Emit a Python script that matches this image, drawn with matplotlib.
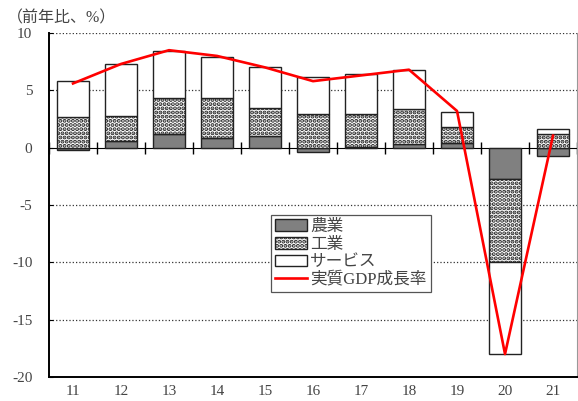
import numpy as np
import matplotlib.pyplot as plt
from matplotlib.patches import Patch
from matplotlib.lines import Line2D

plt.rcParams["font.family"] = ["Liberation Serif", "Noto Sans CJK JP"]
plt.rcParams["hatch.linewidth"] = 2.0

years = ["11", "12", "13", "14", "15", "16", "17", "18", "19", "20", "21"]
agri = [-0.2, 0.6, 1.2, 0.85, 1.05, -0.35, 0.05, 0.35, 0.4, -2.7, -0.7]
industry = [2.7, 2.2, 3.15, 3.5, 2.45, 2.95, 2.9, 3.05, 1.4, -7.3, 1.2]
services = [3.15, 4.5, 4.1, 3.6, 3.5, 3.25, 3.45, 3.4, 1.35, -8.0, 0.4]
gdp = [5.6, 7.3, 8.5, 8.0, 7.0, 5.8, 6.3, 6.8, 3.2, -18.0, 1.05]

text_color = "#444444"

fig = plt.figure(figsize=(5.78, 4.01), dpi=100)
ax = fig.add_axes([0.0848, 0.0599, 0.9135, 0.8578])

x = np.arange(len(years))
width = 0.67
pos_bottom = np.zeros(len(years))
neg_bottom = np.zeros(len(years))

styles = [
    (agri, dict(color="#808080", edgecolor="#222222")),
    (industry, dict(color="white", edgecolor="#222222", hatch="....")),
    (services, dict(color="white", edgecolor="#222222")),
]
for vals, kw in styles:
    vals = np.array(vals)
    bottoms = np.where(vals >= 0, pos_bottom, neg_bottom)
    ax.bar(x, vals, width, bottom=bottoms, linewidth=1.0, zorder=2, **kw)
    pos_bottom = pos_bottom + np.where(vals >= 0, vals, 0)
    neg_bottom = neg_bottom + np.where(vals < 0, vals, 0)

ax.plot(x, gdp, color="#ff0000", linewidth=1.9, zorder=3)

ax.set_xlim(-0.5, len(years) - 0.5)
ax.set_ylim(-20, 10)
ax.set_yticks([-20, -15, -10, -5, 0, 5, 10])
ax.set_yticklabels(["-20", "-15", "-10", "-5", "0", "5", "10"])
for y in [-15, -10, -5, 5, 10]:
    ax.axhline(y, color="#333333", linewidth=0.9, linestyle=":", zorder=1)

ax.set_xticks(x)
ax.set_xticklabels(years)
ax.tick_params(axis="x", length=0, pad=6, labelsize=11, labelcolor=text_color)
ax.tick_params(axis="y", direction="in", length=3, pad=12, labelsize=11,
               labelcolor=text_color)

for side in ["top", "right"]:
    ax.spines[side].set_visible(False)
ax.spines["left"].set_linewidth(1.4)
ax.spines["bottom"].set_linewidth(1.4)
ax.spines["right"].set_visible(True)
ax.spines["right"].set_color("#999999")
ax.spines["right"].set_linewidth(0.8)

# zero line with category boundary ticks
zero_axis = ax.secondary_xaxis(2 / 3)
zero_axis.set_xticks(np.arange(len(years) + 1) - 0.5)
zero_axis.tick_params(direction="inout", length=9, width=1.0,
                      labelbottom=False, labeltop=False)
zero_axis.spines["bottom"].set_linewidth(1.0)

fig.text(0.012, 0.955, "（前年比、%）", fontsize=11.5, color=text_color,
         va="center", ha="left")

handles = [
    Patch(facecolor="#808080", edgecolor="#222222"),
    Patch(facecolor="white", edgecolor="#222222", hatch="...."),
    Patch(facecolor="white", edgecolor="#222222"),
    Line2D([0], [0], color="#ff0000", linewidth=1.9),
]
labels = ["農業", "工業", "サービス", "実質GDP成長率"]
leg = ax.legend(handles, labels, loc="upper left",
                bbox_to_anchor=(0.405, 0.496), fontsize=12, frameon=True,
                fancybox=False, edgecolor="#555555", framealpha=1,
                borderpad=0.25, labelspacing=0.1, handlelength=1.9,
                handletextpad=0.2, handleheight=0.7)
leg.get_frame().set_linewidth(0.9)
for t in leg.get_texts():
    t.set_color(text_color)

fig.savefig("out.png", dpi=100)
